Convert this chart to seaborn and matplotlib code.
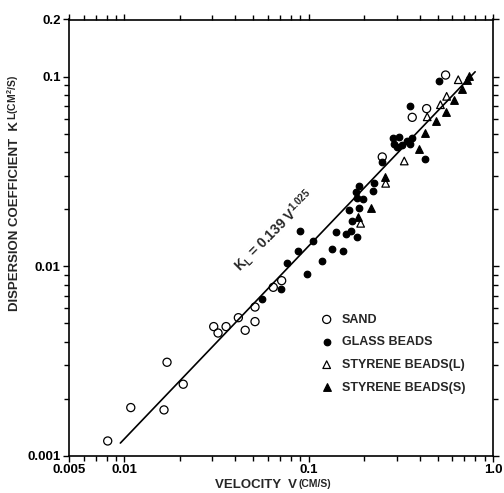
import matplotlib
matplotlib.use("Agg")
import matplotlib.pyplot as plt
import matplotlib.ticker as mticker
import seaborn as sns
import numpy as np
import pandas as pd

# ---- data ----
sand_v = [0.00811, 0.01082, 0.01639, 0.02084, 0.01702, 0.0305, 0.0322, 0.0356, 0.0415,
          0.0452, 0.0511, 0.0511, 0.0642, 0.0713, 0.2506, 0.3645, 0.4363, 0.553]
sand_k = [0.00120, 0.00180, 0.00175, 0.00239, 0.00312, 0.00481, 0.00445, 0.00481, 0.00536,
          0.00460, 0.00511, 0.00610, 0.00775, 0.00840, 0.0377, 0.0610, 0.0678, 0.1019]

glass_v = [0.0555, 0.0704, 0.0762, 0.0877, 0.0896, 0.0974, 0.1058, 0.1175, 0.1331, 0.1405,
           0.1533, 0.1592, 0.1689, 0.1820, 0.1710, 0.1653, 0.1873, 0.1820, 0.1976, 0.1797,
           0.1873, 0.2239, 0.2259, 0.2512, 0.2853, 0.3099, 0.2901, 0.3001, 0.3193, 0.3399,
           0.3619, 0.3540, 0.4271, 0.3540, 0.5107]
glass_k = [0.00670, 0.00757, 0.01045, 0.01197, 0.01526, 0.00911, 0.01360, 0.01067, 0.01241, 0.01511,
           0.01201, 0.01481, 0.01535, 0.01422, 0.01739, 0.01980, 0.02021, 0.02299, 0.02255, 0.02473,
           0.02660, 0.02503, 0.02738, 0.03547, 0.04728, 0.04822, 0.04413, 0.04255, 0.04359, 0.04593,
           0.04728, 0.04413, 0.03678, 0.0700, 0.0948]

styl_v = [0.1913, 0.2615, 0.3299, 0.4396, 0.5185, 0.5603, 0.6478]
styl_k = [0.01685, 0.02738, 0.03590, 0.0614, 0.0711, 0.0787, 0.0963]

stys_v = [0.1856, 0.2168, 0.2593, 0.3978, 0.4256, 0.4901, 0.5554, 0.6138, 0.6758, 0.7194, 0.7404]
stys_k = [0.01819, 0.02021, 0.02945, 0.04152, 0.05062, 0.0580, 0.0648, 0.0752, 0.0857, 0.0960, 0.1013]

fit_v = [0.0095, 0.80]
fit_k = [0.00117, 0.106]

x_ticks = [0.005, 0.01, 0.1, 1.0]
x_ticklabels = ["0.005", "0.01", "0.1", "1.0"]
y_ticks = [0.001, 0.01, 0.1, 0.2]
y_ticklabels = ["0.001", "0.01", "0.1", "0.2"]

# ---- style ----
sns.set_style("ticks")
plt.rcParams["font.family"] = ["Liberation Sans", "DejaVu Sans"]
plt.rcParams["font.weight"] = "bold"
plt.rcParams["mathtext.fontset"] = "custom"
plt.rcParams["mathtext.rm"] = "Liberation Sans:bold"
plt.rcParams["mathtext.bf"] = "Liberation Sans:bold"
plt.rcParams["mathtext.it"] = "Liberation Sans:bold"
plt.rcParams["mathtext.sf"] = "Liberation Sans:bold"

fig = plt.figure(figsize=(5.04, 4.93), dpi=100)
ax = fig.add_axes([69 / 504, 37 / 493, 424 / 504, 436.5 / 493])
ax.set_xscale("log")
ax.set_yscale("log")

sns.lineplot(x=fit_v, y=fit_k, ax=ax, color="black", lw=1.2)

ms = 0.9
sns.scatterplot(x=sand_v, y=sand_k, ax=ax, marker="o", s=34, facecolors="none",
                edgecolor="black", linewidth=ms, label="SAND")
sns.scatterplot(x=glass_v, y=glass_k, ax=ax, marker="o", s=22, color="black",
                edgecolor="black", linewidth=ms, label="GLASS BEADS")
sns.scatterplot(x=styl_v, y=styl_k, ax=ax, marker="^", s=30, facecolors="none",
                edgecolor="black", linewidth=ms, label="STYRENE BEADS(L)")
sns.scatterplot(x=stys_v, y=stys_k, ax=ax, marker="^", s=30, color="black",
                edgecolor="black", linewidth=ms, label="STYRENE BEADS(S)")

ax.set_xlim(0.005, 1.0)
ax.set_ylim(0.001, 0.2)

ax.xaxis.set_major_locator(mticker.FixedLocator(x_ticks))
ax.xaxis.set_major_formatter(mticker.FixedFormatter(x_ticklabels))
ax.yaxis.set_major_locator(mticker.FixedLocator(y_ticks))
ax.yaxis.set_major_formatter(mticker.FixedFormatter(y_ticklabels))
ax.xaxis.set_minor_locator(mticker.LogLocator(base=10, subs=np.arange(2, 10)))
ax.yaxis.set_minor_locator(mticker.LogLocator(base=10, subs=np.arange(2, 10)))
ax.xaxis.set_minor_formatter(mticker.NullFormatter())
ax.yaxis.set_minor_formatter(mticker.NullFormatter())

ax.tick_params(which="both", direction="out", top=True, right=True, width=1.0,
               colors="black", labelsize=9.5, pad=2)
ax.tick_params(which="major", length=4)
ax.tick_params(which="minor", length=3.5)
for lab in ax.get_xticklabels() + ax.get_yticklabels():
    lab.set_fontweight("bold")
for sp in ax.spines.values():
    sp.set_linewidth(1.2)
    sp.set_color("black")

# axis labels: main part + smaller unit part
ax.set_xlabel("VELOCITY  V", fontsize=9.5, fontweight="bold")
ax.xaxis.set_label_coords(0.44, -0.052)
ax.xaxis.label.set_va("top")
ax.annotate("(CM/S)", xy=(1, 0.1), xycoords=ax.xaxis.label, xytext=(1.5, 0),
            textcoords="offset points", ha="left", va="bottom", fontsize=7.5,
            fontweight="bold")

ax.set_ylabel("DISPERSION COEFFICIENT  K", fontsize=9.5, fontweight="bold")
ax.yaxis.set_label_coords(-0.113, 0.55)
ax.annotate(r"L(CM$^{\mathrm{2}}$/S)", xy=(1, 1), xycoords=ax.yaxis.label, xytext=(0, 1),
            textcoords="offset points", ha="right", va="bottom", rotation=90,
            fontsize=7.5, fontweight="bold")

ax.text(0.0648, 0.01535, r"K$_{\mathrm{L}}$ = 0.139 V$^{\mathrm{1.025}}$", rotation=45,
        rotation_mode="anchor", ha="center", va="center", fontsize=10, fontweight="bold")

leg = ax.legend(loc="upper left", bbox_to_anchor=(0.593, 0.326), frameon=False,
                borderpad=0, borderaxespad=0, handlelength=1.0, handletextpad=0.7,
                labelspacing=0.85, fontsize=9, scatterpoints=1)
for t in leg.get_texts():
    t.set_fontweight("bold")

fig.savefig("out.png", dpi=100, facecolor="white")
